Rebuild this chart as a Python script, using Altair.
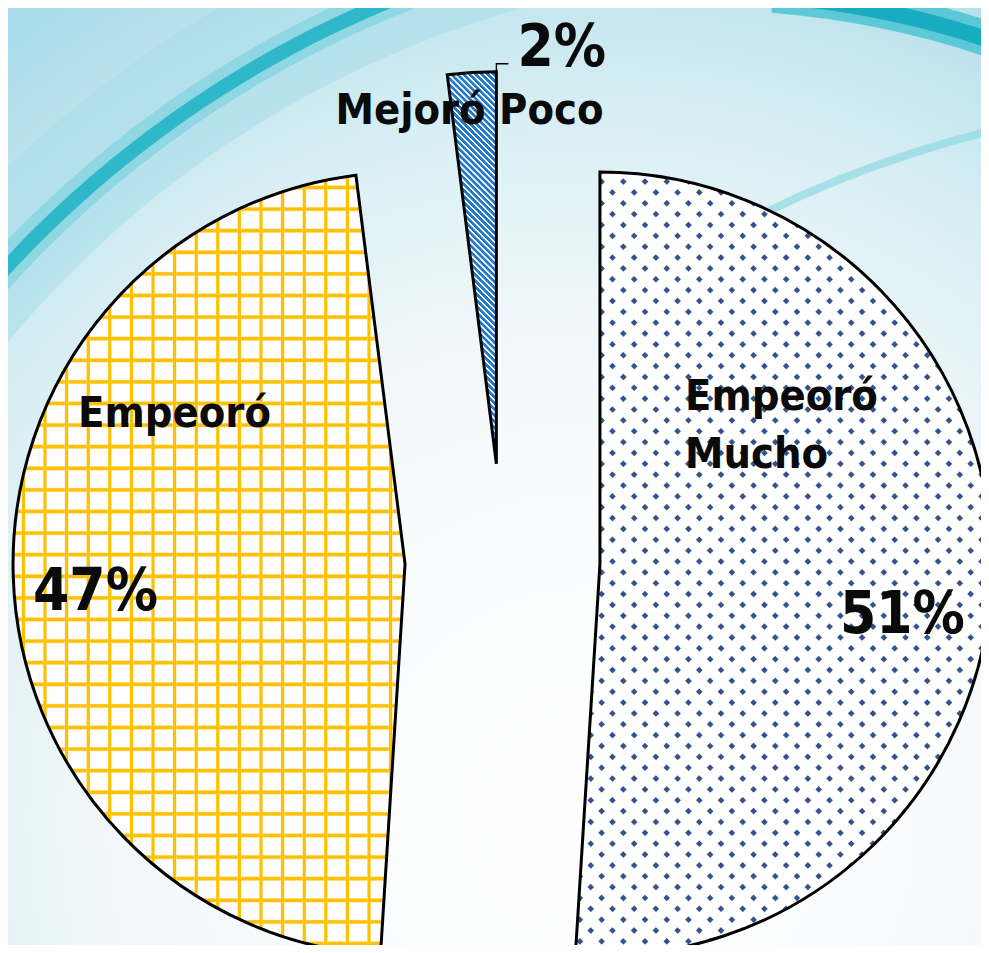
import math
import altair as alt
import pandas as pd

# ---------------- data ----------------
categories = ["Empeoró Mucho", "Empeoró", "Mejoró Poco"]
values = [51, 47, 2]
name_lines = [["Empeoró", "Mucho"], ["Empeoró"], ["Mejoró Poco"]]

# ---------------- layout (page pixels) ----------------
W, H = 973, 937
MARGIN = 8
CX0, CY0 = 502.5, 561.0
R = 392.0
EXPLODE = 97.5
LINE_H = 58
FONT = "DejaVu Sans Condensed, DejaVu Sans, sans-serif"

# label anchors relative to each exploded slice centre
NAME_OFF = {"Empeoró Mucho": (85, -154), "Empeoró": (-327, -137), "Mejoró Poco": (-161, -340)}
PCT_OFF = {"Empeoró Mucho": (240, 69), "Empeoró": (-372, 46), "Mejoró Poco": (21, -398)}

rows = []
acc = 0
for c, v in zip(categories, values):
    s, e = acc, acc + v
    acc = e
    mid = math.radians((s + e) / 2 * 3.6)
    rows.append(dict(cat=c, value=v, start=s, end=e,
                     cx=CX0 + EXPLODE * math.sin(mid),
                     cy=CY0 - EXPLODE * math.cos(mid)))
df = pd.DataFrame(rows)
geo = {r["cat"]: r for r in rows}


def arc_bbox(r):
    xs, ys = [r["cx"]], [r["cy"]]
    n = 1440
    for i in range(n + 1):
        a = math.radians((r["start"] + (r["end"] - r["start"]) * i / n) * 3.6)
        xs.append(r["cx"] + R * math.sin(a))
        ys.append(r["cy"] - R * math.cos(a))
    return min(xs), min(ys), max(xs), max(ys)


def stripes(bbox, angle_deg, period, width, color, bg, phase=0.0, soft=0.8):
    x0, y0, x1, y1 = bbox
    w, h = x1 - x0, y1 - y0
    nx, ny = math.cos(math.radians(angle_deg)), math.sin(math.radians(angle_deg))
    corners = [(0, 0), (1, 0), (0, 1), (1, 1)]
    proj = [(x0 + u * w) * nx + (y0 + v * h) * ny for u, v in corners]
    k = proj.index(min(proj))
    mn, mx = min(proj), max(proj)
    L = mx - mn
    p1 = corners[k]
    gx, gy = w * nx, h * ny
    g2 = gx * gx + gy * gy
    p2 = (p1[0] + L * gx / g2, p1[1] + L * gy / g2)
    stops = [{"color": bg, "offset": 0}]
    s = phase + math.floor((mn - phase) / period) * period
    last = 0.0
    while s < mx + period:
        for val, col in [(s - width / 2 - soft, bg), (s - width / 2, color),
                         (s + width / 2, color), (s + width / 2 + soft, bg)]:
            t = round((val - mn) / L, 6)
            if 0 < t < 1 and t >= last:
                stops.append({"color": col, "offset": t})
                last = t
        s += period
    stops.append({"color": bg, "offset": 1})
    return {"gradient": "linear", "x1": p1[0], "y1": p1[1],
            "x2": p2[0], "y2": p2[1], "stops": stops}


# ---------------- scales ----------------
xs = alt.Scale(domain=[MARGIN, MARGIN + W], nice=False, zero=False)
ys = alt.Scale(domain=[MARGIN, MARGIN + H], nice=False, zero=False, reverse=True)
ts = alt.Scale(domain=[0, 100], range=[0, 2 * math.pi])

base = alt.Chart(df)


def arc(cat, fill, stroke=False):
    kw = dict(radius=R, fill=fill, clip=True)
    if stroke:
        kw.update(stroke="#000000", strokeWidth=3, strokeJoin="miter")
    else:
        kw.update(strokeWidth=0)
    return base.transform_filter(alt.datum.cat == cat).mark_arc(**kw).encode(
        x=alt.X("cx:Q", scale=xs, axis=None),
        y=alt.Y("cy:Q", scale=ys, axis=None),
        theta=alt.Theta("start:Q", scale=ts, stack=None),
        theta2=alt.Theta2("end:Q"),
    )


TRANSP = "rgba(255,255,255,0)"
YEL = "#FFC000"
NAVY = "#33538f"
BLUE = "#2179C7"

bb_m = arc_bbox(geo["Empeoró Mucho"])
bb_e = arc_bbox(geo["Empeoró"])
bb_p = arc_bbox(geo["Mejoró Poco"])

dot_a = stripes(bb_m, -45, 15.35, 3.6, NAVY, "#ffffff", phase=297.0, soft=1.0)
dot_b = stripes(bb_m, 45, 15.35, 3.8, TRANSP, "#ffffff", phase=584.5, soft=1.0)
grid_h = stripes(bb_e, 90, 21.6, 2.4, YEL, "#ffffff", phase=446.7, soft=1.3)
grid_v = stripes(bb_e, 0, 21.6, 2.4, YEL, TRANSP, phase=45.0, soft=1.3)
diag = stripes(bb_p, -45, 4.3, 2.2, BLUE, "#ffffff", phase=0.0, soft=0.5)

arcs = [
    arc("Empeoró Mucho", dot_a),
    arc("Empeoró Mucho", dot_b, stroke=True),
    arc("Empeoró", grid_h),
    arc("Empeoró", grid_v, stroke=True),
    arc("Mejoró Poco", diag, stroke=True),
]

# ---------------- labels ----------------
name_rows, pct_rows = [], []
for c, v, lines in zip(categories, values, name_lines):
    g = geo[c]
    dx, dy = NAME_OFF[c]
    for i, t in enumerate(lines):
        name_rows.append(dict(text=t, x=g["cx"] + dx, y=g["cy"] + dy + i * LINE_H))
    px, py = PCT_OFF[c]
    pct_rows.append(dict(text=f"{v}%", x=g["cx"] + px, y=g["cy"] + py))

names = alt.Chart(pd.DataFrame(name_rows)).mark_text(
    font=FONT, fontSize=43, fontWeight="bold", align="left", baseline="alphabetic",
    color="#0a0a0a").encode(
    x=alt.X("x:Q", scale=xs, axis=None), y=alt.Y("y:Q", scale=ys, axis=None), text="text:N")

pcts = alt.Chart(pd.DataFrame(pct_rows)).mark_text(
    font=FONT, fontSize=58, fontWeight="bold", align="left", baseline="alphabetic",
    color="#0a0a0a").encode(
    x=alt.X("x:Q", scale=xs, axis=None), y=alt.Y("y:Q", scale=ys, axis=None), text="text:N")

# leader line from small slice to its percentage label
gp = geo["Mejoró Poco"]
lp = pct_rows[2]
lead = pd.DataFrame([
    dict(o=0, x=gp["cx"], y=gp["cy"] - R + 2),
    dict(o=1, x=gp["cx"], y=lp["y"] - 2),
    dict(o=2, x=lp["x"] - 9, y=lp["y"] - 2),
])
leader = alt.Chart(lead).mark_line(color="#000000", strokeWidth=1.4).encode(
    x=alt.X("x:Q", scale=xs, axis=None), y=alt.Y("y:Q", scale=ys, axis=None), order="o:Q")

# ---------------- decorative slide background ----------------
one = pd.DataFrame({"k": [0]})
bg = {"gradient": "radial", "x1": 0.6, "y1": 0.85, "r1": 0.0,
      "x2": 0.6, "y2": 0.85, "r2": 1.0,
      "stops": [{"color": "#ffffff", "offset": 0},
                {"color": "#f6f9fb", "offset": 0.45},
                {"color": "#dcf0f5", "offset": 0.7},
                {"color": "#a9dbe8", "offset": 1}]}
backdrop = alt.Chart(one).mark_rect(fill=bg, strokeWidth=0).encode(
    x=alt.value(0), x2=alt.value(W), y=alt.value(0), y2=alt.value(H))


def swirl(cx, cy, r1, r2, color, opacity, t1=0.0, t2=2 * math.pi):
    return alt.Chart(one).mark_arc(
        innerRadius=r1, radius=r2, theta=t1, theta2=t2, fill=color,
        opacity=opacity, clip=True, strokeWidth=0).encode(
        x=alt.value(cx - MARGIN), y=alt.value(cy - MARGIN))


swirls = [
    swirl(800, 1000, 1030, 1150, "#a7dcea", 0.55),
    swirl(800, 1000, 1064, 1098, "#7fd3e0", 0.7),
    swirl(800, 1000, 1073, 1087, "#1fb3c6", 0.85),
    swirl(700, 905, 895, 930, "#45c0d0", 0.8, 0.08, 0.45),
    swirl(700, 905, 904, 920, "#12a9bf", 0.9, 0.08, 0.45),
    swirl(1250, 1200, 1096, 1104, "#8fd8e4", 0.7, 5.75, 6.2),
]

chart = alt.layer(backdrop, *swirls, *arcs, leader, names, pcts).properties(
    width=W, height=H, padding=0, autosize="none"
).configure_view(stroke=None).configure(background="#ffffff")

chart.save("out.html", embed_options={"renderer": "svg", "actions": False})
